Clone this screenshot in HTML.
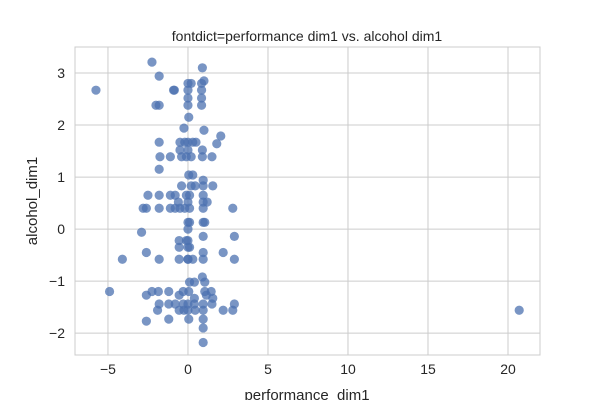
<!DOCTYPE html>
<html><head><meta charset="utf-8"><style>
body{margin:0;background:#fff;}
svg{font-family:"Liberation Sans","DejaVu Sans",sans-serif;}
</style></head><body>
<svg id="chart" width="600" height="400">
<rect x="0" y="0" width="600" height="400" fill="#fff"/>
<g id="grid"></g>
<rect x="75" y="47" width="465" height="308" fill="none" stroke="#ccc" stroke-width="1"/>
<g id="ticks"></g>
<g id="pts"></g>
<text x="307" y="41" font-size="14" text-anchor="middle" fill="#262626">fontdict=performance dim1 vs. alcohol dim1</text>
<text x="307" y="400" font-size="15" text-anchor="middle" fill="#262626">performance_dim1</text>
<text x="37" y="201" font-size="15" text-anchor="middle" fill="#262626" transform="rotate(-90 37 201)">alcohol_dim1</text>
</svg>
<script>
const xTicks=[-5,0,5,10,15,20];
const yTicks=[-2,-1,0,1,2,3];
const xs=[-2.25,-5.75,0.9,-1.8,0.2,1.0,-0.9,-0.85,0,0,0,0,0.85,0.85,0.85,0.85,-2.0,-1.8,0.05,-0.25,1.0,2.05,1.8,-1.8,
-0.5,-0.2,0,0.3,0.5,-0.5,0,0.9,-1.75,-1.1,-0.4,-0.1,0.2,0.9,1.5,-1.8,0.05,0.3,0.95,-0.4,0.2,0.45,0.95,1.55,
-2.5,-1.8,-1.1,-0.8,-0.1,0.1,0.95,
-2.8,-2.6,-1.8,-1.1,-0.8,-0.5,-0.2,0.1,0.95,2.8,-0.6,0,0.95,1.2,0,0.1,0.95,1.05,0,-2.9,0.95,2.9,-0.55,-0.1,0,-0.55,0,0.1,
-2.6,2.2,0.95,-4.1,-1.8,-0.55,0,0,0.3,0.95,2.9,0.9,0.1,0.4,1.05,-4.9,-2.25,-1.85,-1.2,-0.3,0.05,1.05,1.45,-2.6,-0.55,1.15,1.55,0.4,
-1.8,-1.2,-0.8,-0.3,0,0.4,0.95,1.5,2.9,-1.9,-0.55,-0.25,0,0.45,0.95,2.2,2.8,-2.6,-1.2,0.05,0.95,0.95,0.95,20.7];
const ys=[3.21,2.67,3.1,2.94,2.8,2.85,2.67,2.67,2.8,2.67,2.52,2.38,2.8,2.67,2.52,2.38,2.38,2.38,2.15,1.94,1.9,1.79,1.64,1.67,
1.67,1.67,1.67,1.67,1.67,1.52,1.52,1.52,1.39,1.39,1.39,1.39,1.39,1.39,1.39,1.15,1.04,1.04,0.94,0.83,0.83,0.83,0.83,0.83,
0.65,0.65,0.65,0.65,0.65,0.65,0.65,
0.4,0.4,0.4,0.4,0.4,0.4,0.4,0.4,0.4,0.4,0.52,0.52,0.52,0.52,0.13,0.13,0.13,0.13,0,-0.06,-0.14,-0.14,-0.22,-0.22,-0.22,-0.35,-0.35,-0.35,
-0.45,-0.45,-0.45,-0.58,-0.58,-0.58,-0.58,-0.58,-0.58,-0.58,-0.58,-0.92,-1.02,-1.02,-1.02,-1.2,-1.2,-1.2,-1.2,-1.2,-1.2,-1.2,-1.2,-1.27,-1.27,-1.27,-1.33,-1.33,
-1.44,-1.44,-1.44,-1.44,-1.44,-1.44,-1.44,-1.44,-1.44,-1.56,-1.56,-1.56,-1.56,-1.56,-1.56,-1.56,-1.56,-1.77,-1.73,-1.73,-1.73,-1.9,-2.18,-1.56];
const NS="http://www.w3.org/2000/svg";
const X0=75,X1=540,Y0=47,Y1=355,xmin=-7.06,xmax=22,ymin=-2.42,ymax=3.5;
const sx=v=>X0+(v-xmin)/(xmax-xmin)*(X1-X0);
const sy=v=>Y1-(v-ymin)/(ymax-ymin)*(Y1-Y0);
const grid=document.getElementById('grid'),ticks=document.getElementById('ticks'),pts=document.getElementById('pts');
function mk(tag,attrs,parent){const e=document.createElementNS(NS,tag);for(const k in attrs)e.setAttribute(k,attrs[k]);parent.appendChild(e);return e;}
xTicks.forEach(t=>{
  const l=mk('line',{x1:sx(t),x2:sx(t),y1:Y0,y2:Y1,stroke:'#ccc','stroke-width':1},grid);
  
  
  const tx=mk('text',{x:sx(t),y:Y1+19,'font-size':14,'text-anchor':'middle',fill:'#262626'},ticks);
  tx.textContent=(t<0?'\u2212'+(-t):t);
  
  
});
yTicks.forEach(t=>{
  const l=mk('line',{x1:X0,x2:X1,y1:sy(t),y2:sy(t),stroke:'#ccc','stroke-width':1},grid);
  
  
  const tx=mk('text',{x:X0-10,y:sy(t)+5,'font-size':14,'text-anchor':'end',fill:'#262626'},ticks);
  tx.textContent=(t<0?'\u2212'+(-t):t);
  
  
});
xs.forEach((v,i)=>{
  const c=mk('circle',{cx:sx(v),cy:sy(ys[i]),r:4.6,fill:'#4c72b0','fill-opacity':0.75},pts);
  
  
});
</script>
</body></html>
